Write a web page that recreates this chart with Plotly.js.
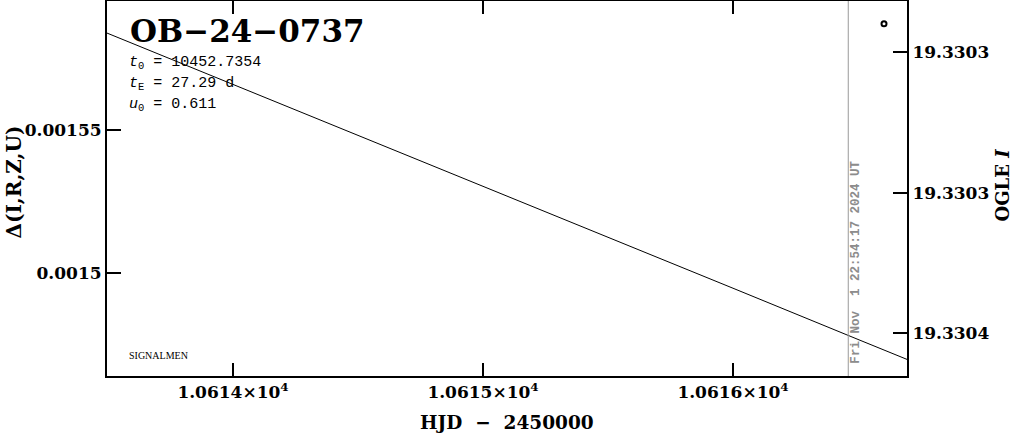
<!DOCTYPE html>
<html>
<head>
<meta charset="utf-8">
<script src="https://cdn.plot.ly/plotly-3.0.1.min.js"></script>
<style>html,body{margin:0;padding:0;background:#fff;}#chart{width:1011px;height:434px;}</style>
</head>
<body>
<div id="chart"></div>
<script>
// ---- data ----
const modelHJD = [10613.496, 10614.0, 10614.5, 10615.0, 10615.5, 10616.0, 10616.5, 10616.696];
const modelMag = [19.3302933, 19.3303115, 19.3303297, 19.3303478, 19.3303659, 19.3303840, 19.3304022, 19.3304093];
const obsHJD = [10616.604];
const obsMag = [19.3302900];
const nowHJD = [10616.461];
const nowLabel = ["Fri Nov  1 22:54:17 2024 UT"];
const eventName = "OB−24−0737";
const paramLabels = ["<i>t</i><sub>0</sub> = 10452.7354", "<i>t</i><sub>E</sub> = 27.29 d", "<i>u</i><sub>0</sub> = 0.611"];
const xTickVals = [10614, 10615, 10616];
const xTickText = ["1.0614×10<sup>4</sup>", "1.0615×10<sup>4</sup>", "1.0616×10<sup>4</sup>"];
const yTickVals = [0.0015, 0.00155];
const yTickText = ["0.0015", "0.00155"];
const y2TickVals = [19.3303, 19.33035, 19.3304];
const y2TickText = ["19.3303", "19.3303", "19.3304"];

function alias(vals, texts, fmt) {
  const o = {};
  vals.forEach((v, i) => { o[fmt(v)] = texts[i]; });
  return o;
}

const tickFont = {family: "DejaVu Serif", size: 17, color: "#000", weight: "bold"};
const axisCommon = {
  showgrid: false, zeroline: false, showline: true, linecolor: "#000", linewidth: 2,
  ticks: "inside", tickcolor: "#000", tickwidth: 2, ticklen: 14, tickfont: tickFont,
  tickmode: "linear", showexponent: "none", exponentformat: "none"
};

const traces = [
  {x: modelHJD, y: modelMag, xaxis: "x", yaxis: "y2", mode: "lines", line: {color: "#000", width: 1}, hoverinfo: "skip"},
  {x: obsHJD, y: obsMag, xaxis: "x", yaxis: "y2", mode: "markers",
   marker: {symbol: "circle-open", size: 5, color: "#000", line: {width: 2, color: "#000"}}, hoverinfo: "skip"},
  {x: [], y: [], xaxis: "x", yaxis: "y", mode: "markers", hoverinfo: "skip"}
];

const layout = {
  width: 1011, height: 434,
  margin: {l: 107, r: 104, t: 1, b: 58},
  paper_bgcolor: "#fff", plot_bgcolor: "#fff",
  showlegend: false,
  xaxis: Object.assign({}, axisCommon, {
    range: [10613.496, 10616.696], tick0: xTickVals[0], dtick: xTickVals[1] - xTickVals[0],
    tickformat: "d", labelalias: alias(xTickVals, xTickText, v => String(v)),
    mirror: "ticks", ticklen: 13
  }),
  yaxis: Object.assign({}, axisCommon, {
    range: [0.0014642, 0.0015948], tick0: yTickVals[0], dtick: yTickVals[1] - yTickVals[0]
  }),
  yaxis2: Object.assign({}, axisCommon, {
    overlaying: "y", side: "right", anchor: "x",
    range: [19.3304152, 19.3302819], tick0: y2TickVals[0], dtick: 0.00005,
    labelalias: {"19.33035": y2TickText[1]}
  }),
  shapes: [
    {type: "line", xref: "x", yref: "paper", x0: nowHJD[0], x1: nowHJD[0], y0: 0, y1: 1,
     line: {color: "#999", width: 1}}
  ],
  annotations: [
    {xref: "paper", yref: "paper", x: 0.026, y: 1 - 30/376, xanchor: "left", yanchor: "middle", showarrow: false,
     text: eventName, font: {family: "DejaVu Serif", size: 31, color: "#000", weight: "bold"}},
    {xref: "paper", yref: "paper", x: 0.025, y: 1 - 62/376, xanchor: "left", yanchor: "middle", showarrow: false,
     text: paramLabels[0], font: {family: "Liberation Mono", size: 15, color: "#000"}},
    {xref: "paper", yref: "paper", x: 0.025, y: 1 - 83/376, xanchor: "left", yanchor: "middle", showarrow: false,
     text: paramLabels[1], font: {family: "Liberation Mono", size: 15, color: "#000"}},
    {xref: "paper", yref: "paper", x: 0.025, y: 1 - 104/376, xanchor: "left", yanchor: "middle", showarrow: false,
     text: paramLabels[2], font: {family: "Liberation Mono", size: 15, color: "#000"}},
    {xref: "paper", yref: "paper", x: 0.025, y: 1 - 355/376, xanchor: "left", yanchor: "middle", showarrow: false,
     text: "SIGNALMEN", font: {family: "Liberation Serif", size: 10, color: "#000"}},
    {xref: "x", yref: "paper", x: nowHJD[0], xshift: 8, y: 0.027, xanchor: "center", yanchor: "bottom", showarrow: false,
     textangle: -90, text: nowLabel[0], font: {family: "Liberation Mono", size: 12.5, color: "#8c8c8c", weight: "bold"}},
    {xref: "paper", yref: "paper", x: 0.5, y: -47/376, xanchor: "center", yanchor: "middle", showarrow: false,
     text: "HJD  −  2450000", font: {family: "DejaVu Serif", size: 18.5, color: "#000", weight: "bold"}},
    {xref: "paper", yref: "paper", x: (14-107)/800, y: 1 - 182/376, xanchor: "center", yanchor: "middle", showarrow: false,
     textangle: -90, text: "Δ(I,R,Z,U)", font: {family: "DejaVu Serif", size: 20, color: "#000", weight: "bold"}},
    {xref: "paper", yref: "paper", x: (1003-107)/800, y: 1 - 185/376, xanchor: "center", yanchor: "middle", showarrow: false,
     textangle: -90, text: "OGLE <i>I</i>", font: {family: "DejaVu Serif", size: 18, color: "#000", weight: "bold"}}
  ]
};

Plotly.newPlot("chart", traces, layout, {staticPlot: true, displayModeBar: false});
</script>
</body>
</html>
